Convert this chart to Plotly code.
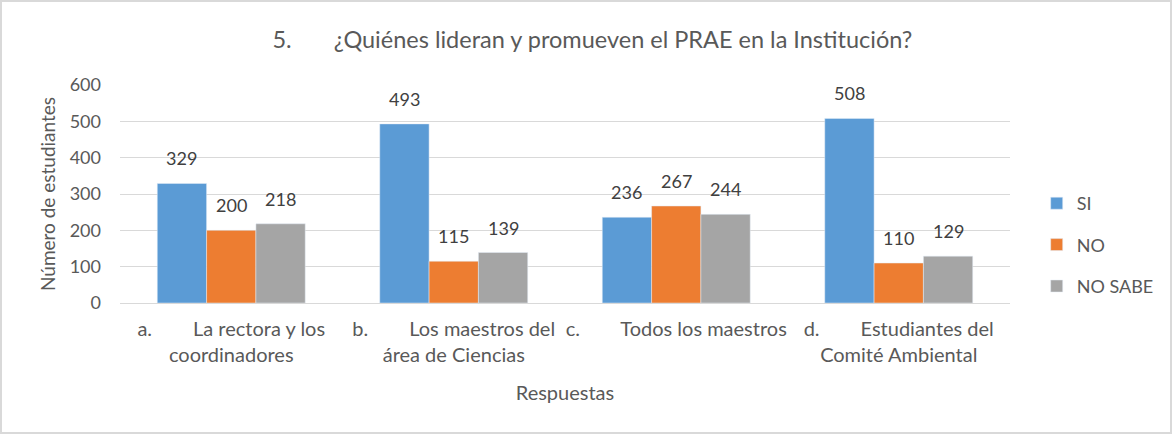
import plotly.graph_objects as go

categories = [
    "a.\u00a0\u00a0\u00a0\u00a0\u00a0\u00a0\u00a0\u00a0La rectora y los<br>coordinadores",
    "b.\u00a0\u00a0\u00a0\u00a0\u00a0\u00a0\u00a0\u00a0Los maestros del<br>área de Ciencias",
    "c.\u00a0\u00a0\u00a0\u00a0\u00a0\u00a0\u00a0\u00a0Todos los maestros",
    "d.\u00a0\u00a0\u00a0\u00a0\u00a0\u00a0\u00a0\u00a0Estudiantes del<br>Comité Ambiental",
]
si = [329, 493, 236, 508]
no = [200, 115, 267, 110]
no_sabe = [218, 139, 244, 129]
series_names = ["SI", "NO", "NO SABE"]
series_values = [si, no, no_sabe]
series_colors = ["#5B9BD5", "#ED7D31", "#A5A5A5"]

W, H = 1173, 436
ML, MR, MT, MB = 120, 163, 85, 133
BARGAP = 0.335
plot_w = W - ML - MR
plot_h = H - MT - MB
bar_w = plot_w / len(categories) * (1 - BARGAP) / len(series_names)

fig = go.Figure()
for j, (name, vals, color) in enumerate(zip(series_names, series_values, series_colors)):
    fig.add_trace(go.Bar(x=categories, y=vals, name=name, marker_color=color,
                         legendgroup=name))
    for cat, v in zip(categories, vals):
        fig.add_annotation(x=cat, y=v, text=str(v), showarrow=False,
                           xanchor="center", yanchor="bottom",
                           xshift=(j - 1) * bar_w, yshift=12,
                           font=dict(size=18, color="#404040"))

font_family = "Lato, 'Open Sans', sans-serif"
fig.update_layout(
    width=W, height=H,
    paper_bgcolor="white", plot_bgcolor="white",
    font=dict(family=font_family, color="#595959", size=18),
    title=dict(text="5.\u00a0\u00a0\u00a0\u00a0\u00a0\u00a0\u00a0¿Quiénes lideran y promueven el PRAE en la Institución?",
               x=0.505, xanchor="center", y=0.908, yanchor="middle",
               font=dict(size=23.5, color="#595959")),
    margin=dict(l=ML, r=MR, t=MT, b=MB, autoexpand=False),
    barmode="group", bargap=BARGAP, bargroupgap=0,
    legend=dict(x=1.03, y=(H - MB - 245) / plot_h, xanchor="left", yanchor="middle",
                font=dict(size=18, color="#595959"), tracegroupgap=15,
                itemwidth=30, traceorder="grouped"),
    xaxis=dict(showline=True, linecolor="#D9D9D9", linewidth=1,
               tickfont=dict(size=20, color="#595959"), ticks="",
               ticklabelstandoff=8, automargin=False,
               title=dict(text="Respuestas", font=dict(size=20, color="#595959"), standoff=20)),
    yaxis=dict(range=[0, 600], dtick=100, showgrid=True, gridcolor="#D9D9D9",
               zeroline=False, tickfont=dict(size=18, color="#595959"), ticks="",
               ticklabelstandoff=18, automargin=False,
               title=dict(text="Número de estudiantes", font=dict(size=19, color="#595959"), standoff=9)),
)
fig.add_shape(type="rect", xref="paper", yref="paper",
              x0=(1 - ML) / plot_w, x1=(1171 - ML) / plot_w,
              y0=(H - MB - 433) / plot_h, y1=(H - MB - 1) / plot_h,
              line=dict(color="#D9D9D9", width=2))
fig.write_html("out.html", config={"displayModeBar": False},
               post_script="document.body.style.margin='0';document.body.style.overflow='hidden';")
